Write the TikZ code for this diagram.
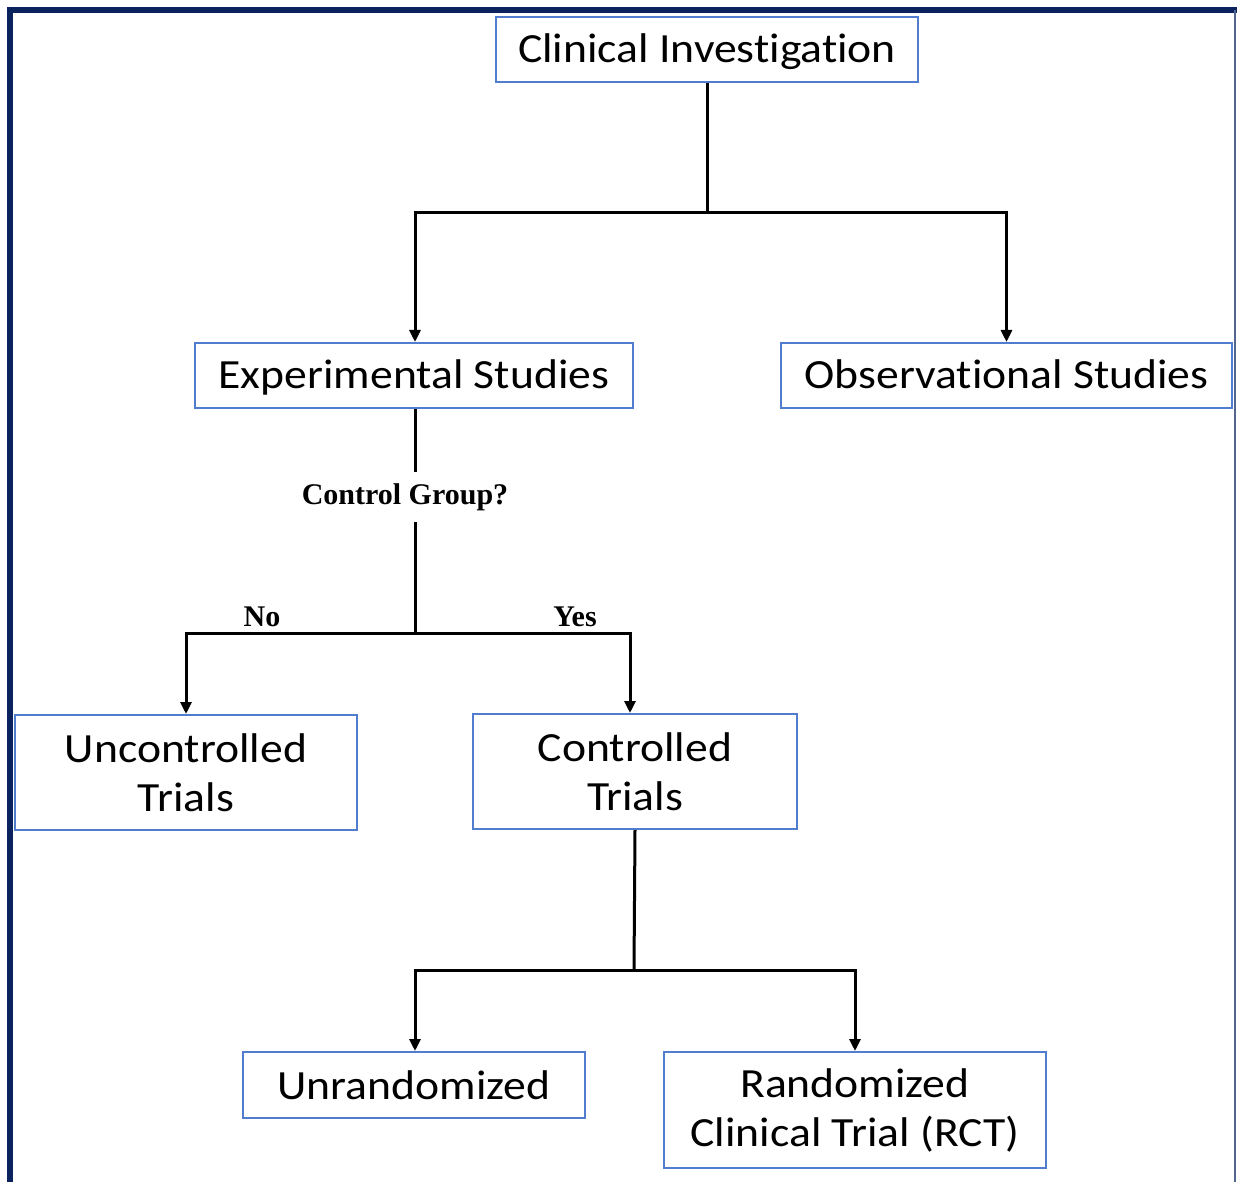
\documentclass[tikz,border=0pt]{standalone}
\usepackage{fontspec}
\setmainfont{Carlito}[FakeStretch=1.1, Ligatures=NoCommon]
\newfontfamily\timesbf{Liberation Serif}
\usetikzlibrary{arrows.meta}
\definecolor{framenavy}{RGB}{10,35,95}
\definecolor{boxblue}{RGB}{80,125,205}
\begin{document}
\begin{tikzpicture}[x=1pt,y=-1pt,
  boxnode/.style={draw=boxblue, line width=2pt, fill=white, align=center,
    inner sep=0pt, font=\fontsize{41.5}{49}\selectfont},
  conn/.style={line width=3pt, black},
  arr/.style={conn, -{Triangle[length=12pt,width=11pt]}},
  lbl/.style={font=\timesbf\bfseries\fontsize{30}{34}\selectfont, inner sep=0pt}]
\useasboundingbox (0,0) rectangle (1237,1182);
\fill[white] (0,0) rectangle (1237,1182);
% frame
\draw[framenavy, line width=6pt] (10,1185) -- (10,10) -- (1240,10);
\draw[framenavy!70, line width=2pt] (1235,10) -- (1235,1185);
% nodes
\node[boxnode, minimum width=422pt, minimum height=65pt, text depth=2pt] (ci) at (707,49.5) {Clinical Investigation};
\node[boxnode, minimum width=438pt, minimum height=65pt, text depth=2pt] (exp) at (414,375.5) {Experimental Studies};
\node[boxnode, minimum width=451pt, minimum height=65pt, text depth=2pt] (obs) at (1006.5,375.5) {Observational Studies};
\node[boxnode, minimum width=342pt, minimum height=115pt] (unc) at (186,772.5) {Uncontrolled\\Trials};
\node[boxnode, minimum width=324pt, minimum height=115pt] (con) at (635,771.5) {Controlled\\Trials};
\node[boxnode, minimum width=342pt, minimum height=66pt] (unr) at (414,1085) {Unrandomized};
\node[boxnode, minimum width=382pt, minimum height=116pt] (rct) at (855,1110) {Randomized\\Clinical Trial (RCT)};
\node[lbl, minimum height=50pt] (cg) at (405,497) {Control Group?};
\node[lbl] (no) at (262,617) {No};
\node[lbl] (yes) at (575,617) {Yes};
% junctions
\coordinate (j1) at (707,213);
\coordinate (j2) at (415,633);
\coordinate (j3) at (634,970);
% connectors
\draw[conn] (ci.south) -- (j1);
\draw[arr] (j1) -| ([xshift=1pt]exp.north);
\draw[arr] (j1) -| (obs.north);
\draw[conn] ([xshift=1pt]exp.south) -- ([xshift=1pt]exp.south |- cg.north);
\draw[conn] (j2 |- cg.south) -- (j2);
\draw[arr] (j2) -| (unc.north);
\draw[arr] (j2) -| ([xshift=-5pt]con.north);
\draw[conn] (con.south) -- (j3);
\draw[arr] (j3) -| ([xshift=1pt]unr.north);
\draw[arr] (j3) -| (rct.north);
\end{tikzpicture}
\end{document}
